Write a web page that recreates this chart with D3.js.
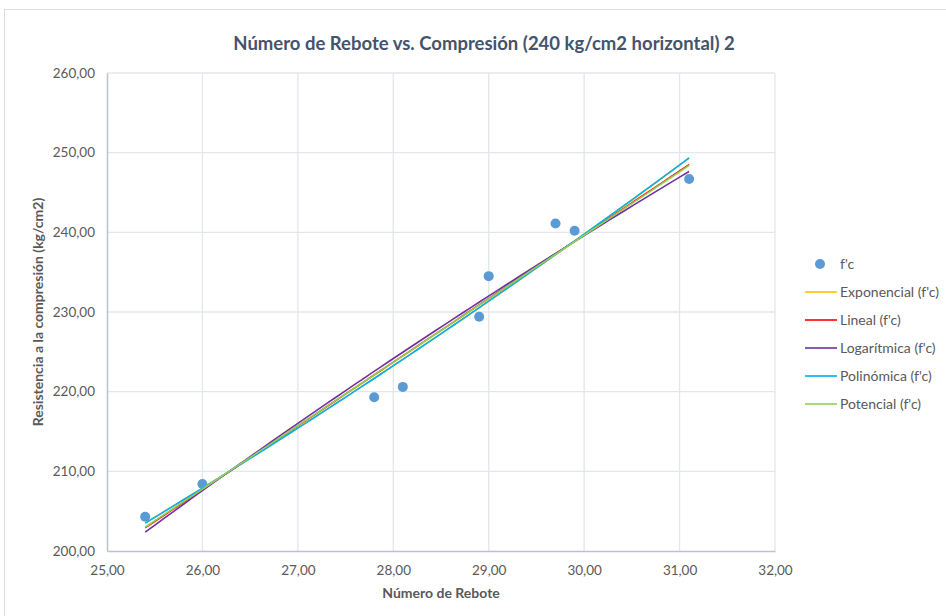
<!DOCTYPE html>
<html>
<head>
<meta charset="utf-8">
<script src="https://cdn.jsdelivr.net/npm/d3@7"></script>
<style>
  body { margin: 0; background: #fff; }
  text { font-family: Lato, "Open Sans", sans-serif; }
</style>
</head>
<body>
<div id="main"></div>
<script>

// datos
var rebote = [25.4, 26.0, 27.8, 28.1, 28.9, 29.0, 29.7, 29.9, 31.1]
var fc = [204.3, 208.4, 219.3, 220.6, 229.4, 234.5, 241.1, 240.2, 246.7]

var xTicks = [25, 26, 27, 28, 29, 30, 31, 32]
var yTicks = [200, 210, 220, 230, 240, 250, 260]

var trendNames = ["Exponencial (f'c)", "Lineal (f'c)", "Logarítmica (f'c)", "Polinómica (f'c)", "Potencial (f'c)"]
var trendColors = ["#FFC000", "#FF0000", "#7030A0", "#00B0F0", "#92D050"]

var W = 946, H = 616
var margin = { top: 73, left: 107, right: 171, bottom: 65 }
var w = W - margin.left - margin.right,
	h = H - margin.top - margin.bottom

var fmt = function(d) { return d3.format(".2f")(d).replace(".", ",") }

var svg = d3.select("#main")
	.append("svg")
	.attr("width", W)
	.attr("height", H)

// borde del area del grafico
svg.append("rect")
	.attr("x", 4.5).attr("y", 9.5)
	.attr("width", W + 10).attr("height", H + 10)
	.attr("fill", "none")
	.attr("stroke", "#d9dde3")

var g = svg.append("g")
	.attr("transform", "translate(" + margin.left + "," + margin.top + ")")

var x = d3.scaleLinear().domain([25, 32]).range([0, w])
var y = d3.scaleLinear().domain([200, 260]).range([h, 0])

// rejilla
g.selectAll(".vgrid")
	.data(xTicks.slice(1))
	.enter()
	.append("line")
	.attr("x1", function(d) { return x(d) }).attr("x2", function(d) { return x(d) })
	.attr("y1", 0).attr("y2", h)
	.attr("stroke", "#e3e6eb").attr("stroke-width", 1.3)

g.selectAll(".hgrid")
	.data(yTicks.slice(1))
	.enter()
	.append("line")
	.attr("x1", 0).attr("x2", w)
	.attr("y1", function(d) { return y(d) }).attr("y2", function(d) { return y(d) })
	.attr("stroke", "#e3e6eb").attr("stroke-width", 1.3)

// ejes
var xAxis = g.append("g")
	.attr("transform", "translate(0," + h + ")")
	.call(d3.axisBottom(x).tickValues(xTicks).tickFormat(fmt).tickSize(0).tickPadding(14))
var yAxis = g.append("g")
	.call(d3.axisLeft(y).tickValues(yTicks).tickFormat(fmt).tickSize(0).tickPadding(12))

xAxis.select(".domain").attr("stroke", "#b9c3d0").attr("stroke-width", 1.5)
yAxis.select(".domain").attr("stroke", "#b9c3d0").attr("stroke-width", 1.5)
svg.selectAll(".tick text")
	.attr("fill", "#595959")
	.style("font-size", "13.5px")

// ajustes de tendencia
function linfit(xs, ys) {
	var mx = d3.mean(xs), my = d3.mean(ys)
	var sxy = d3.sum(xs, function(v, i) { return (v - mx) * (ys[i] - my) })
	var sxx = d3.sum(xs, function(v) { return (v - mx) * (v - mx) })
	var b = sxy / sxx
	return { a: my - b * mx, b: b }
}

function polyfit2(xs, ys) {
	var n = xs.length, s = [0, 0, 0, 0, 0], t = [0, 0, 0]
	xs.forEach(function(v, i) {
		for (var k = 0; k < 5; k++) s[k] += Math.pow(v, k)
		for (var k = 0; k < 3; k++) t[k] += Math.pow(v, k) * ys[i]
	})
	var M = [[s[0], s[1], s[2], t[0]], [s[1], s[2], s[3], t[1]], [s[2], s[3], s[4], t[2]]]
	for (var c = 0; c < 3; c++) {
		for (var r = c + 1; r < 3; r++) {
			var f = M[r][c] / M[c][c]
			for (var k = c; k < 4; k++) M[r][k] -= f * M[c][k]
		}
	}
	var co = [0, 0, 0]
	for (var r = 2; r >= 0; r--) {
		var acc = M[r][3]
		for (var k = r + 1; k < 3; k++) acc -= M[r][k] * co[k]
		co[r] = acc / M[r][r]
	}
	return co
}

var lnx = rebote.map(Math.log), lny = fc.map(Math.log)
var fExp = linfit(rebote, lny)
var fLin = linfit(rebote, fc)
var fLog = linfit(lnx, fc)
var fPol = polyfit2(rebote, fc)
var fPot = linfit(lnx, lny)

var trendFns = [
	function(v) { return Math.exp(fExp.a + fExp.b * v) },
	function(v) { return fLin.a + fLin.b * v },
	function(v) { return fLog.a + fLog.b * Math.log(v) },
	function(v) { return fPol[0] + fPol[1] * v + fPol[2] * v * v },
	function(v) { return Math.exp(fPot.a) * Math.pow(v, fPot.b) }
]

var xs = d3.range(0, 61).map(function(i) { return d3.min(rebote) + i * (d3.max(rebote) - d3.min(rebote)) / 60 })

var line = d3.line()
	.x(function(d) { return x(d[0]) })
	.y(function(d) { return y(d[1]) })

// puntos
g.selectAll(".pt")
	.data(rebote)
	.enter()
	.append("circle")
	.attr("class", "pt")
	.attr("cx", function(d) { return x(d) })
	.attr("cy", function(d, i) { return y(fc[i]) })
	.attr("r", 5)
	.attr("fill", "#5B9BD5")

trendFns.forEach(function(fn, i) {
	g.append("path")
		.datum(xs.map(function(v) { return [v, fn(v)] }))
		.attr("d", line)
		.attr("fill", "none")
		.attr("stroke", trendColors[i])
		.attr("stroke-width", 1.6)
})

// titulos
svg.append("text")
	.attr("x", 484).attr("y", 50)
	.attr("text-anchor", "middle")
	.attr("fill", "#44546A")
	.style("font-size", "18.5px").style("font-weight", "bold")
	.text("Número de Rebote vs. Compresión (240 kg/cm2 horizontal) 2")

svg.append("text")
	.attr("x", margin.left + w / 2).attr("y", 598)
	.attr("text-anchor", "middle")
	.attr("fill", "#595959")
	.style("font-size", "14px").style("font-weight", "bold")
	.text("Número de Rebote")

svg.append("text")
	.attr("transform", "translate(43," + (margin.top + h / 2) + ") rotate(-90)")
	.attr("text-anchor", "middle")
	.attr("fill", "#595959")
	.style("font-size", "14px").style("font-weight", "bold")
	.text("Resistencia a la compresión (kg/cm2)")

// leyenda
var legend = svg.append("g")
legend.append("circle")
	.attr("cx", 820).attr("cy", 264).attr("r", 5).attr("fill", "#5B9BD5")
legend.append("text")
	.attr("x", 840).attr("y", 264).attr("dy", "0.35em")
	.attr("fill", "#595959").style("font-size", "14px")
	.text("f'c")

legend.selectAll(".lg")
	.data(trendNames)
	.enter()
	.append("g")
	.attr("transform", function(d, i) { return "translate(0," + (292 + i * 28) + ")" })
	.each(function(d, i) {
		var row = d3.select(this)
		row.append("line")
			.attr("x1", 805).attr("x2", 837)
			.attr("stroke", trendColors[i]).attr("stroke-width", 1.6)
		row.append("text")
			.attr("x", 840).attr("dy", "0.35em")
			.attr("fill", "#595959").style("font-size", "14px")
			.text(d)
	})

</script>
</body>
</html>
